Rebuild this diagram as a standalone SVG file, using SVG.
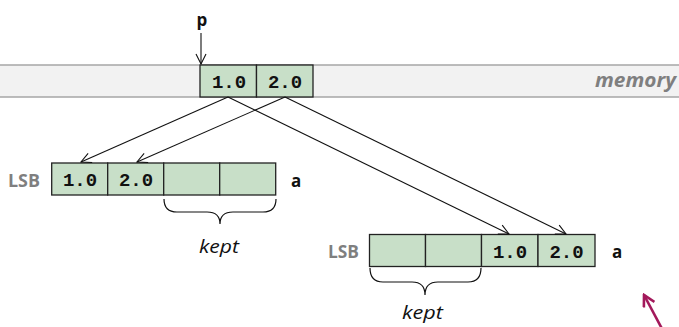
<svg xmlns="http://www.w3.org/2000/svg" width="679" height="327" viewBox="0 0 679 327">
<style>
.cell{fill:#c8dfc8;stroke:#222;stroke-width:1.3}
.num{font-family:"Liberation Mono",monospace;font-weight:bold;font-size:19px;fill:#111;text-anchor:middle}
.lsb{font-family:"Open Sans",sans-serif;font-weight:bold;font-size:17px;fill:#7f7f7f}
.lbl{font-family:"Open Sans",sans-serif;font-weight:bold;font-size:17px;fill:#111}
.kept{font-family:"Open Sans",sans-serif;font-style:italic;font-size:18px;fill:#111}
.conn{stroke:#111;stroke-width:1.1;fill:none}
.brace{stroke:#111;stroke-width:1.2;fill:none}
</style>
<defs>
<marker id="ah" viewBox="0 0 12 12" refX="11" refY="6" markerWidth="12" markerHeight="12" markerUnits="userSpaceOnUse" orient="auto">
<path d="M1,1 L11,6 L1,11" fill="none" stroke="#111" stroke-width="1.1"/>
</marker>
<marker id="ahm" viewBox="0 0 14 14" refX="12" refY="7" markerWidth="14" markerHeight="14" markerUnits="userSpaceOnUse" orient="auto">
<path d="M1,1 L12,7 L1,13" fill="none" stroke="#a3195b" stroke-width="2.6"/>
</marker>
</defs>
<g id="memory">
<rect x="-2" y="65" width="683" height="32" fill="#f2f2f2" stroke="#a6a6a6" stroke-width="1.5"/>
<text x="595" y="87" font-family="Open Sans,sans-serif" font-weight="bold" font-style="italic" font-size="19" fill="#7f7f7f" textLength="81" lengthAdjust="spacingAndGlyphs">memory</text>
</g>
<g id="p-label">
<text x="202" y="26" class="lbl" text-anchor="middle">p</text>
</g>
<g id="src">
<rect class="cell" x="200" y="65" width="56.5" height="32"/>
<rect class="cell" x="256.5" y="65" width="56.5" height="32"/>
<text class="num" x="229" y="88">1.0</text>
<text class="num" x="285" y="88">2.0</text>
</g>
<g id="a-left">
<text class="lsb" x="8" y="187" textLength="32" lengthAdjust="spacingAndGlyphs">LSB</text>
<rect class="cell" x="51.7" y="163" width="56" height="32"/>
<rect class="cell" x="107.7" y="163" width="56" height="32"/>
<rect class="cell" x="163.7" y="163" width="56" height="32"/>
<rect class="cell" x="219.7" y="163" width="56" height="32"/>
<text class="num" x="80" y="186">1.0</text>
<text class="num" x="136" y="186">2.0</text>
<text class="lbl" x="291" y="187">a</text>
<path class="brace" d="M164,199 Q164,212 177,212 L207,212 Q220,212 220,224 Q220,212 233,212 L263,212 Q276,212 276,199"/>
<text class="kept" x="199" y="253" textLength="40" lengthAdjust="spacingAndGlyphs">kept</text>
</g>
<g id="a-right">
<text class="lsb" x="328" y="258" textLength="31" lengthAdjust="spacingAndGlyphs">LSB</text>
<rect class="cell" x="369.5" y="234.5" width="56" height="32"/>
<rect class="cell" x="425.5" y="234.5" width="56" height="32"/>
<rect class="cell" x="481.5" y="234.5" width="56.5" height="32"/>
<rect class="cell" x="538" y="234.5" width="57" height="32"/>
<text class="num" x="510" y="258">1.0</text>
<text class="num" x="566.5" y="258">2.0</text>
<text class="lbl" x="612" y="258">a</text>
<path class="brace" d="M370,268 Q370,282 383,282 L412,282 Q425,282 425,295 Q425,282 438,282 L468,282 Q481,282 481,268"/>
<text class="kept" x="402" y="319" textLength="41" lengthAdjust="spacingAndGlyphs">kept</text>
</g>
<g id="connectors">
<line class="conn" x1="201" y1="33" x2="201" y2="64" marker-end="url(#ah)"/>
<line class="conn" x1="228" y1="97" x2="81" y2="162" marker-end="url(#ah)"/>
<line class="conn" x1="285" y1="97" x2="137" y2="162" marker-end="url(#ah)"/>
<line class="conn" x1="228" y1="97" x2="509" y2="234" marker-end="url(#ah)"/>
<line class="conn" x1="285" y1="97" x2="566" y2="234" marker-end="url(#ah)"/>
<line x1="668" y1="340" x2="644" y2="295" stroke="#a3195b" stroke-width="2.6" marker-end="url(#ahm)"/>
</g>
</svg>
